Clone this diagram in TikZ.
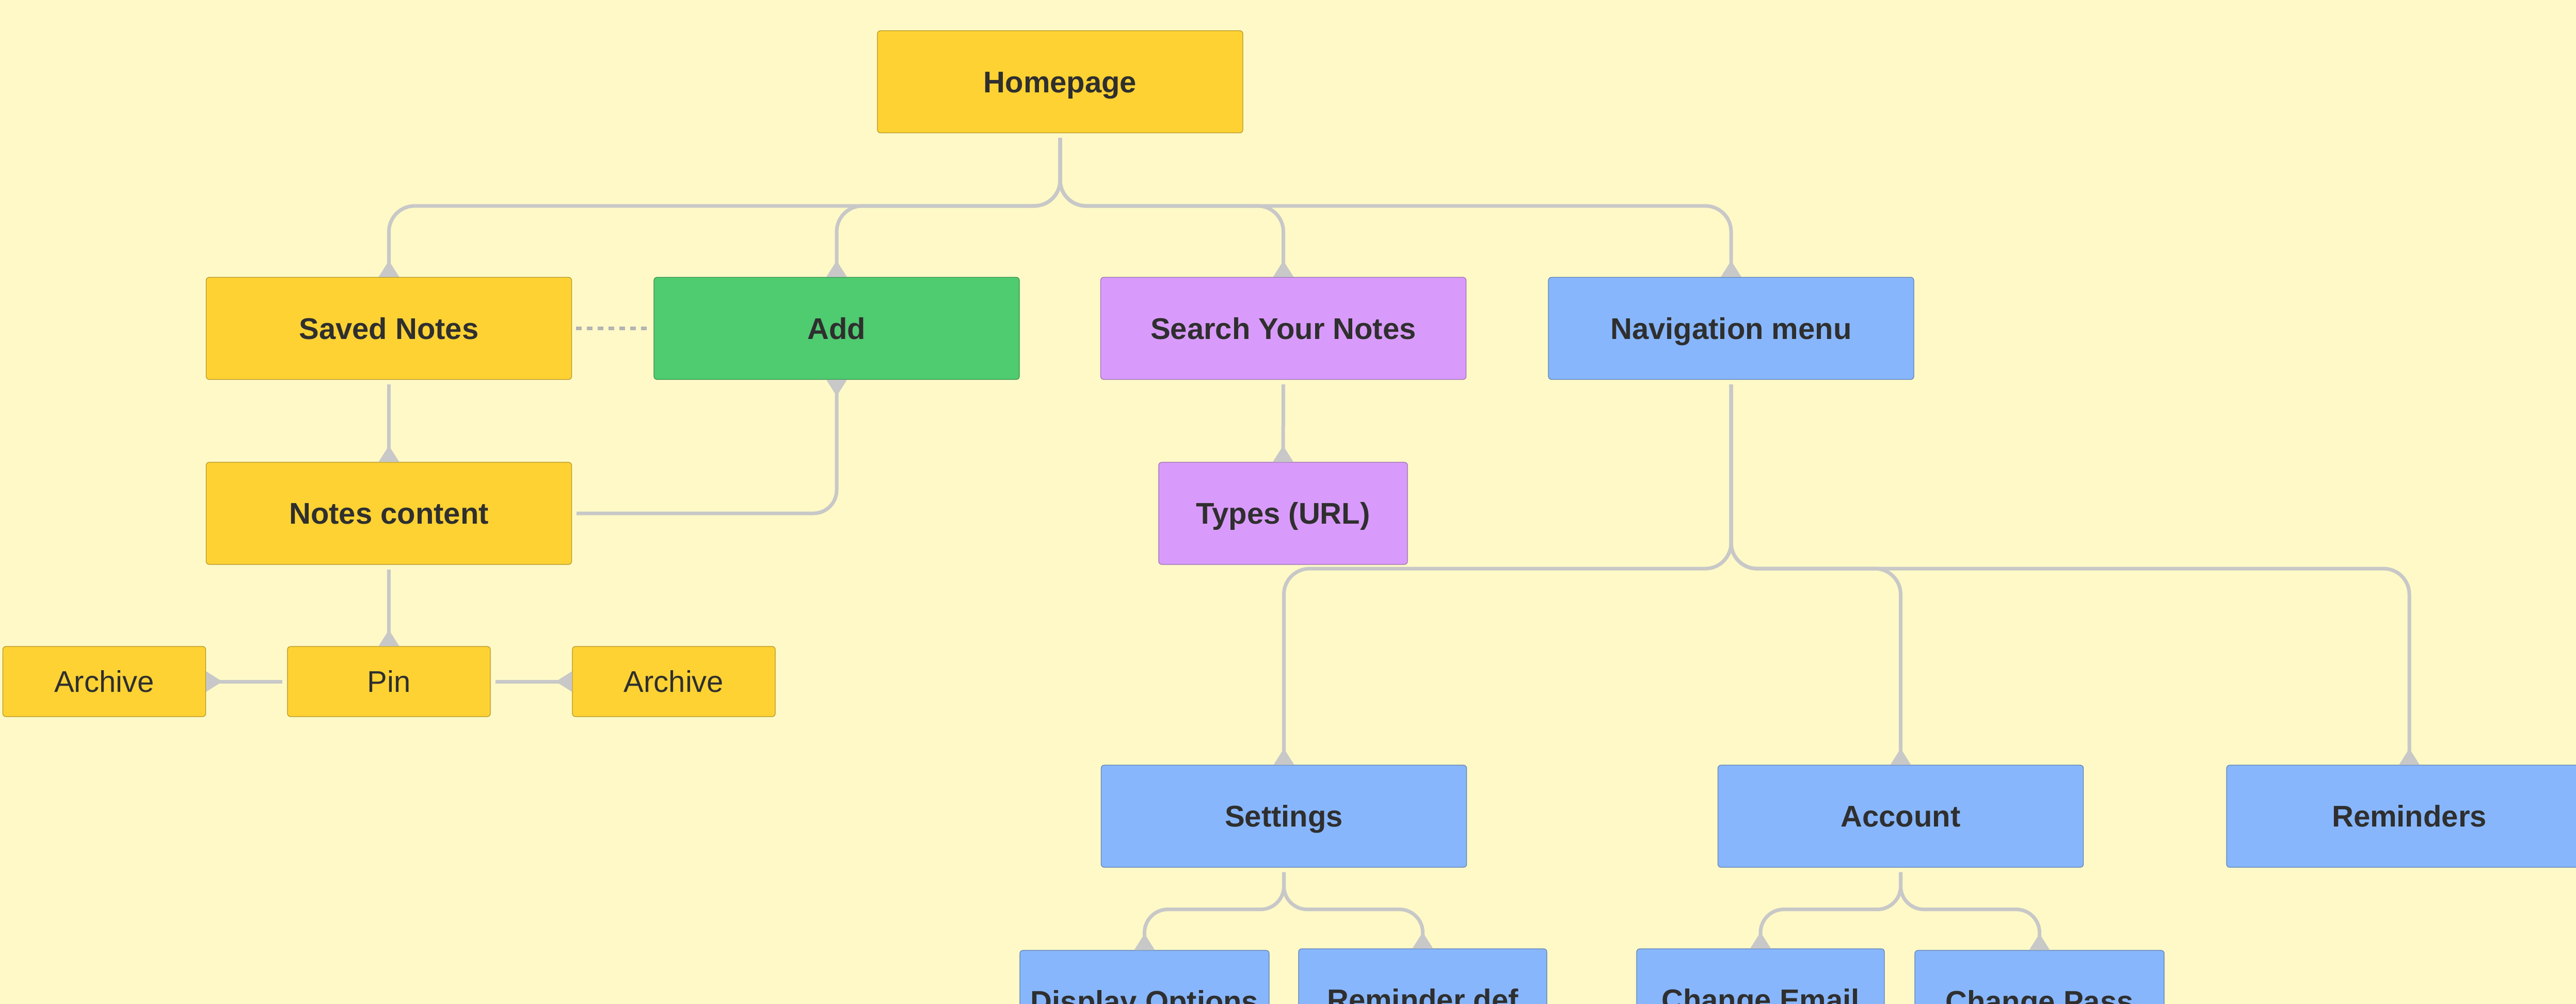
\documentclass[tikz,border=0pt]{standalone}
\usepackage{fontspec}
\setmainfont{Liberation Sans}
\usetikzlibrary{arrows.meta}
\definecolor{paper}{HTML}{FFF9C7}
\definecolor{yel}{HTML}{FFD233}
\definecolor{grn}{HTML}{4FCB70}
\definecolor{prp}{HTML}{D99BFB}
\definecolor{blu}{HTML}{87B6FD}
\definecolor{wire}{HTML}{C8C8C8}
\definecolor{ink}{HTML}{2F2F2F}
\newlength{\cardw}
\setlength{\cardw}{7.08cm}
\newlength{\cardh}
\setlength{\cardh}{1.98cm}
\tikzset{card/.style = {shape=rectangle, rounded corners=0.06cm, line width=0.012cm, minimum width=\cardw, minimum height=\cardh, inner sep=0pt, text height=11.8pt, text depth=0pt, text=ink, font=\fontsize{16.5}{19}\selectfont\bfseries}}
\tikzset{ycard/.style = {card, fill=yel, draw=yel!70!black}}
\tikzset{gcard/.style = {card, fill=grn, draw=grn!70!black}}
\tikzset{pcard/.style = {card, fill=prp, draw=prp!70!black}}
\tikzset{bcard/.style = {card, fill=blu, draw=blu!70!black}}
\tikzset{small/.style = {minimum width=3.93cm, minimum height=1.36cm, font=\fontsize{16.5}{19}\selectfont}}
\tikzset{edge/.style = {draw=wire, line width=0.07cm, rounded corners=0.5cm, shorten <=0.09cm, -{Triangle[reversed, width=0.38cm, length=0.32cm, fill=wire]}}}
\tikzset{link/.style = {draw=wire!90!black, line width=0.07cm, dash pattern=on 0.11cm off 0.10cm, shorten <=0.08cm, shorten >=0.08cm}}

\begin{document}
\begin{tikzpicture}
            \useasboundingbox (0,0) rectangle (49.91,-19.46);
            \clip (0,0) rectangle (49.91,-19.46);
            \fill[paper] (0,0) rectangle (49.91,-19.46);
            \node[ycard] (home) at (20.54,-1.585) {Homepage};
            \node[ycard] (saved) at (7.535,-6.365) {Saved Notes};
            \draw[edge] (home.south) -- ++(0,-1.41) -| (saved.north);
            \node[gcard] (add) at (16.21,-6.365) {Add};
            \draw[edge] (home.south) -- ++(0,-1.41) -| (add.north);
            \node[pcard] (search) at (24.865,-6.365) {Search Your Notes};
            \draw[edge] (home.south) -- ++(0,-1.41) -| (search.north);
            \node[bcard] (nav) at (33.54,-6.365) {Navigation menu};
            \draw[edge] (home.south) -- ++(0,-1.41) -| (nav.north);
            \draw[link] (saved.east) -- (add.west);
            \node[ycard] (notes) at (7.535,-9.95) {Notes content};
            \draw[edge] (saved.south) -- (notes.north);
            \draw[edge, rounded corners=0.45cm] (notes.east) -| (add.south);
            \node[pcard, minimum width=4.82cm] (types) at (24.86,-9.95) {Types (URL)};
            \draw[edge] (search.south) -- (types.north);
            \node[ycard, small] (pin) at (7.535,-13.21) {Pin};
            \draw[edge] (notes.south) -- (pin.north);
            \node[ycard, small] (arcl) at (2.02,-13.21) {Archive};
            \draw[edge] (pin.west) -- (arcl.east);
            \node[ycard, small] (arcr) at (13.055,-13.21) {Archive};
            \draw[edge] (pin.east) -- (arcr.west);
            \node[bcard] (set) at (24.875,-15.82) {Settings};
            \draw[edge] (nav.south) -- ++(0,-3.66) -| (set.north);
            \node[bcard] (acc) at (36.825,-15.82) {Account};
            \draw[edge] (nav.south) -- ++(0,-3.66) -| (acc.north);
            \node[bcard] (rem) at (46.68,-15.82) {Reminders};
            \draw[edge] (nav.south) -- ++(0,-3.66) -| (rem.north);
            \node[bcard, minimum width=4.83cm] (disp) at (22.175,-19.41) {Display Options};
            \draw[edge, rounded corners=0.45cm] (set.south) -- ++(0,-0.81) -| (disp.north);
            \node[bcard, minimum width=4.81cm] (rdef) at (27.565,-19.38) {Reminder def};
            \draw[edge, rounded corners=0.45cm] (set.south) -- ++(0,-0.81) -| (rdef.north);
            \node[bcard, minimum width=4.8cm] (mail) at (34.11,-19.38) {Change Email};
            \draw[edge, rounded corners=0.45cm] (acc.south) -- ++(0,-0.81) -| (mail.north);
            \node[bcard, minimum width=4.83cm] (pass) at (39.515,-19.41) {Change Pass};
            \draw[edge, rounded corners=0.45cm] (acc.south) -- ++(0,-0.81) -| (pass.north);
        \end{tikzpicture}
\end{document}
